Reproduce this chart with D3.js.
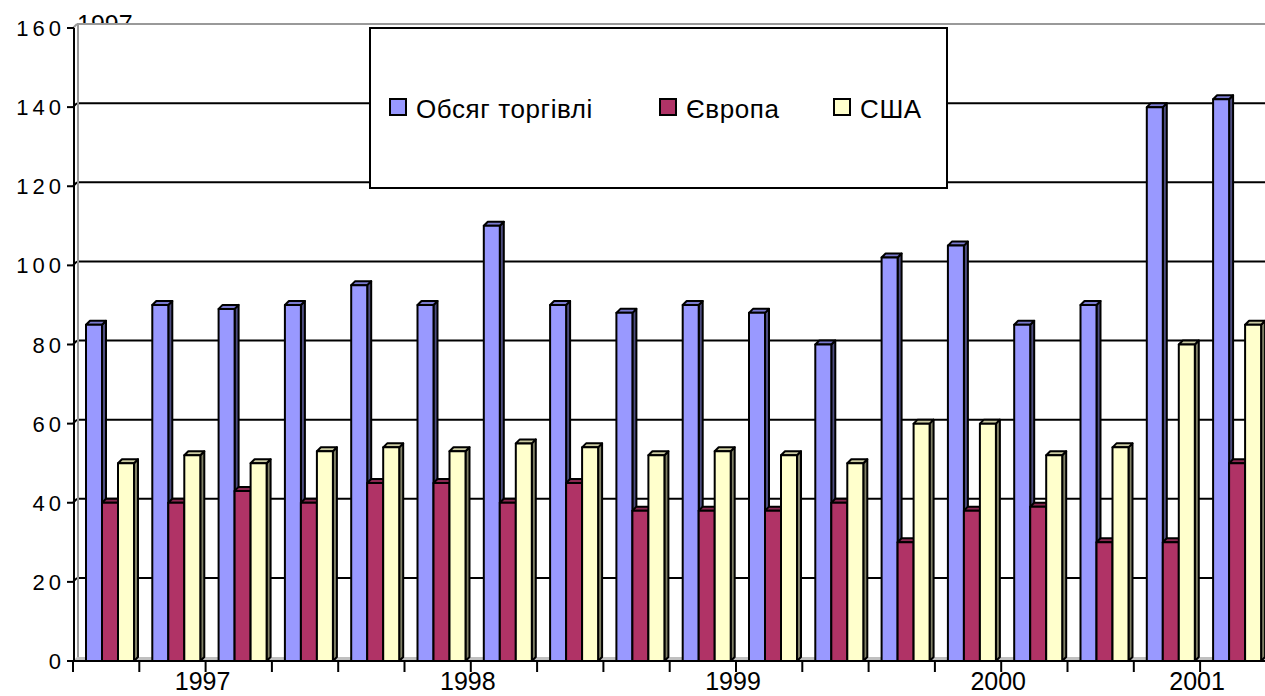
<!DOCTYPE html>
<html>
<head>
<meta charset="utf-8">
<script src="https://cdn.jsdelivr.net/npm/d3@7"></script>
<style>
  html, body { margin: 0; padding: 0; background: #fff; }
  svg { display: block; font-family: "Liberation Sans", Arial, sans-serif; }
</style>
</head>
<body>
<svg id="chart" width="1265" height="696"></svg>
<script>
// quarters 1997 I .. 2001 II
var quarters = [
  "1997 I", "1997 II", "1997 III", "1997 IV",
  "1998 I", "1998 II", "1998 III", "1998 IV",
  "1999 I", "1999 II", "1999 III", "1999 IV",
  "2000 I", "2000 II", "2000 III", "2000 IV",
  "2001 I", "2001 II"
];
var years = ["1997", "1998", "1999", "2000", "2001"];
var seriesNames = ["Обсяг торгівлі", "Європа", "США"];

// values
var tradeVolume = [85, 90, 89, 90, 95, 90, 110, 90, 88, 90, 88, 80, 102, 105, 85, 90, 140, 142];
var europe      = [40, 40, 43, 40, 45, 45, 40, 45, 38, 38, 38, 40, 30, 38, 39, 30, 30, 50];
var usa         = [50, 52, 50, 53, 54, 53, 55, 54, 52, 53, 52, 50, 60, 60, 52, 54, 80, 85];

var yTicks = [0, 20, 40, 60, 80, 100, 120, 140, 160];

// front, top, side colours for each series
var colors = [
  { front: "#9999ff", top: "#7a7ad0", side: "#4d4d80" },
  { front: "#b03366", top: "#8c2952", side: "#581a33" },
  { front: "#ffffcc", top: "#cccca3", side: "#808066" }
];

var svg = d3.select("#chart");
var W = 1265;

var step = 66.3;
var x0 = 73;
var x = d3.scaleBand().domain(quarters).range([x0, x0 + step * quarters.length]).padding(0);
var xs = d3.scaleBand().domain(seriesNames).range([13, 61]).padding(0);
var y = d3.scaleLinear().domain([0, 160]).range([661, 28]);

var dx = 4, dy = 4; // 3d depth

var rows = quarters.map(function(q, i) {
  return { q: q, vals: [tradeVolume[i], europe[i], usa[i]] };
});

// cut-off label peeking above the wall
svg.append("text")
  .attr("x", 77).attr("y", 33)
  .attr("font-size", 25)
  .text("1997");

// back wall
svg.append("rect")
  .attr("x", x0 + dx).attr("y", y(160) - dy)
  .attr("width", W - x0 - dx).attr("height", y(0) - y(160))
  .attr("fill", "#fff");

// floor
svg.append("polygon")
  .attr("points", [[x0, y(0)], [x0 + dx, y(0) - dy], [W, y(0) - dy], [W, y(0)]].join(" "))
  .attr("fill", "#c0c0c0");

// gridlines on back wall and side wall
var grid = svg.append("g");
yTicks.forEach(function(t) {
  if (t === 0) return;
  var top = t === 160;
  grid.append("line")
    .attr("x1", x0 + dx).attr("x2", W)
    .attr("y1", y(t) - dy).attr("y2", y(t) - dy)
    .attr("stroke", top ? "#999" : "#000")
    .attr("stroke-width", 2);
  grid.append("line")
    .attr("x1", x0).attr("x2", x0 + dx)
    .attr("y1", y(t)).attr("y2", y(t) - dy)
    .attr("stroke", top ? "#999" : "#000")
    .attr("stroke-width", 2);
});
// wall corner
svg.append("line")
  .attr("x1", x0 + dx + 1).attr("x2", x0 + dx + 1)
  .attr("y1", y(160) - dy).attr("y2", y(0) - dy)
  .attr("stroke", "#999").attr("stroke-width", 2);

// bars
var bars = svg.append("g");
rows.forEach(function(r) {
  r.vals.forEach(function(v, si) {
    var bx = x(r.q) + xs(seriesNames[si]);
    var bw = xs.bandwidth();
    var by = y(v), b0 = y(0);
    var c = colors[si];
    var g = bars.append("g")
      .attr("stroke", "#000").attr("stroke-width", 2).attr("stroke-linejoin", "round");
    g.append("polygon")
      .attr("points", [[bx + bw, by], [bx + bw + dx, by - dy], [bx + bw + dx, b0 - dy], [bx + bw, b0]].join(" "))
      .attr("fill", c.side);
    g.append("polygon")
      .attr("points", [[bx, by], [bx + dx, by - dy], [bx + bw + dx, by - dy], [bx + bw, by]].join(" "))
      .attr("fill", c.top);
    g.append("rect")
      .attr("x", bx).attr("y", by)
      .attr("width", bw).attr("height", b0 - by)
      .attr("fill", c.front);
  });
});

// y axis
var yAxis = svg.append("g");
yAxis.append("line")
  .attr("x1", x0 + 1).attr("x2", x0 + 1)
  .attr("y1", y(160)).attr("y2", y(0))
  .attr("stroke", "#000").attr("stroke-width", 2);
yTicks.forEach(function(t) {
  yAxis.append("line")
    .attr("x1", x0 - 6).attr("x2", x0 + 1)
    .attr("y1", y(t)).attr("y2", y(t))
    .attr("stroke", "#000").attr("stroke-width", 2);
  yAxis.append("text")
    .attr("x", 65).attr("y", y(t) + 8)
    .attr("text-anchor", "end")
    .attr("font-size", 22)
    .attr("letter-spacing", 4)
    .text(t);
});

// x axis
var xAxis = svg.append("g");
xAxis.append("line")
  .attr("x1", x0 - 6).attr("x2", W)
  .attr("y1", y(0)).attr("y2", y(0))
  .attr("stroke", "#000").attr("stroke-width", 2);
quarters.forEach(function(q) {
  xAxis.append("line")
    .attr("x1", x(q)).attr("x2", x(q))
    .attr("y1", y(0)).attr("y2", y(0) + 11)
    .attr("stroke", "#000").attr("stroke-width", 2);
});
years.forEach(function(yr) {
  var qs = quarters.filter(function(q) { return q.indexOf(yr) === 0; });
  var cx = (x(qs[0]) + x(qs[qs.length - 1]) + x.bandwidth()) / 2;
  xAxis.append("text")
    .attr("x", cx - 3).attr("y", 690)
    .attr("text-anchor", "middle")
    .attr("font-size", 25)
    .text(yr);
});

// legend
var legend = svg.append("g");
legend.append("rect")
  .attr("x", 370).attr("y", 28).attr("width", 577).attr("height", 160)
  .attr("fill", "#fff").attr("stroke", "#000").attr("stroke-width", 2);
var legendX = [390, 660, 834];
seriesNames.forEach(function(name, i) {
  legend.append("rect")
    .attr("x", legendX[i]).attr("y", 99).attr("width", 16).attr("height", 16)
    .attr("fill", colors[i].front).attr("stroke", "#000").attr("stroke-width", 2);
  legend.append("text")
    .attr("x", legendX[i] + 26).attr("y", 118)
    .attr("font-size", 26)
    .attr("letter-spacing", 0.6)
    .text(name);
});
</script>
</body>
</html>
